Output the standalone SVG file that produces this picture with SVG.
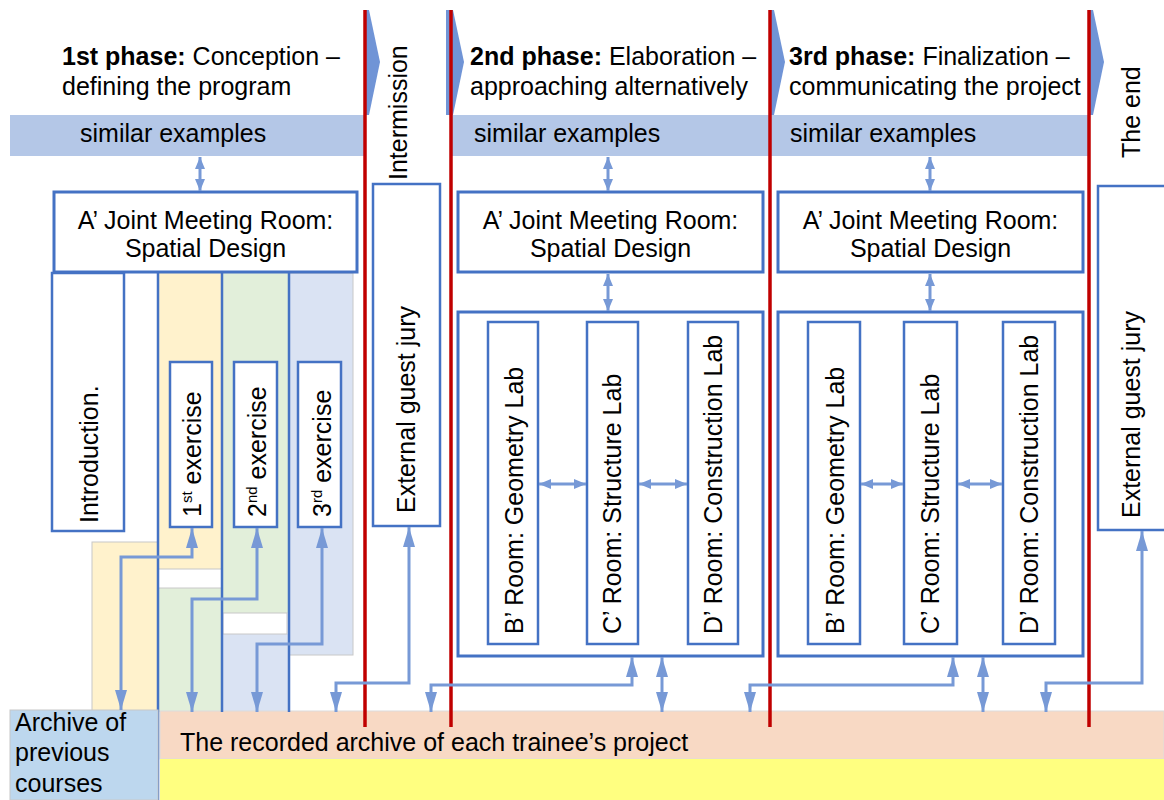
<svg xmlns="http://www.w3.org/2000/svg" width="1164" height="800" viewBox="0 0 1164 800">
<style>
text{font-family:"Liberation Sans",Arial,sans-serif;font-size:25px;fill:#000}
.box{fill:#fff;stroke:#4472c4;stroke-width:2.5}
.bbox{fill:#fff;stroke:#4472c4;stroke-width:3}
.vl{stroke:#4472c4;stroke-width:2.5;fill:none}
.red{stroke:#c00000;stroke-width:3.5}
.con{fill:none;stroke:#7799d6;stroke-width:3;marker-start:url(#ah);marker-end:url(#ah)}
.sm{fill:none;stroke:#7799d6;stroke-width:3;marker-start:url(#sh);marker-end:url(#sh)}
.band{fill:#b4c7e7}
</style>
<defs>
<marker id="ah" viewBox="0 0 20 12" refX="20" refY="6" markerWidth="20" markerHeight="12" orient="auto-start-reverse" markerUnits="userSpaceOnUse"><path d="M0,0 L20,6 L0,12 z" fill="#7799d6"/></marker>
<marker id="sh" viewBox="0 0 12 10" refX="12" refY="5" markerWidth="12" markerHeight="10" orient="auto-start-reverse" markerUnits="userSpaceOnUse"><path d="M0,0 L12,5 L0,10 z" fill="#7799d6"/></marker>
</defs>
<rect width="1164" height="800" fill="#fff"/>

<!-- backgrounds -->
<g id="backgrounds">
<rect class="band" x="10" y="115" width="355" height="41"/>
<rect class="band" x="451" y="115" width="319" height="41"/>
<rect class="band" x="770" y="115" width="319" height="41"/>
<rect x="92" y="542" width="66" height="170" fill="#fff2cc" stroke="#c8c8c8" stroke-width="1"/>
<rect x="158" y="273" width="64" height="296" fill="#fff2cc"/>
<rect x="222" y="273" width="67" height="340" fill="#e2efda"/>
<rect x="158" y="588" width="64" height="124" fill="#e2efda"/>
<rect x="289" y="273" width="64" height="382" fill="#dae3f3" stroke="#c8c8c8" stroke-width="1"/>
<rect x="222" y="634" width="67" height="78" fill="#dae3f3"/>
<rect x="158" y="569" width="64" height="19" fill="#fff" stroke="#c8c8c8" stroke-width="1"/>
<rect x="223" y="613" width="64" height="21" fill="#fff" stroke="#c8c8c8" stroke-width="1"/>
<rect x="160" y="711" width="1004" height="48" fill="#f8d9c4" stroke="#dcdcdc" stroke-width="1"/>
<rect x="160" y="759" width="1004" height="41" fill="#ffff80"/>
</g>

<g id="chevrons" fill="#7094d6">
<polygon points="366,10 369,10 380,62 369,115 366,115"/>
<polygon points="446,10 453,10 464,62 453,115 446,115"/>
<polygon points="771,10 774,10 785,62 774,115 771,115"/>
<polygon points="1090,10 1093,10 1104,62 1093,115 1090,115"/>
</g>

<g id="header1">
<text x="62" y="65"><tspan font-weight="bold">1st phase:</tspan> Conception –</text>
<text x="62" y="95">defining the program</text>
<text x="80" y="142">similar examples</text>
</g>
<g id="header2">
<text x="470" y="65"><tspan font-weight="bold">2nd phase:</tspan> Elaboration –</text>
<text x="470" y="95">approaching alternatively</text>
<text x="474" y="142">similar examples</text>
</g>
<g id="header3">
<text x="789" y="65"><tspan font-weight="bold">3rd phase:</tspan> Finalization –</text>
<text x="789" y="95">communicating the project</text>
<text x="790" y="142">similar examples</text>
</g>

<!-- phase 1 -->
<g id="meeting1">
<rect class="bbox" x="54" y="192" width="303" height="80"/>
<text x="205.5" y="229" text-anchor="middle">A’ Joint Meeting Room:</text>
<text x="205.5" y="257" text-anchor="middle">Spatial Design</text>
</g>
<g id="columns">
<line class="vl" x1="158" y1="271" x2="158" y2="800"/>
<line class="vl" x1="222" y1="273" x2="222" y2="712"/>
<line class="vl" x1="289" y1="273" x2="289" y2="712"/>
</g>
<g id="intro">
<rect class="box" x="52" y="273" width="72" height="258"/>
<text transform="translate(98,523) rotate(-90)">Introduction.</text>
</g>
<g id="ex1">
<rect class="box" x="170" y="362" width="42" height="165"/>
<text transform="translate(201,517) rotate(-90)">1<tspan font-size="15" dy="-9">st</tspan><tspan dy="9"> exercise</tspan></text>
</g>
<g id="ex2">
<rect class="box" x="234" y="362" width="43" height="165"/>
<text transform="translate(266,517) rotate(-90)">2<tspan font-size="15" dy="-9">nd</tspan><tspan dy="9"> exercise</tspan></text>
</g>
<g id="ex3">
<rect class="box" x="298" y="362" width="43" height="165"/>
<text transform="translate(331,517) rotate(-90)">3<tspan font-size="15" dy="-9">rd</tspan><tspan dy="9"> exercise</tspan></text>
</g>

<!-- intermission -->
<g id="intermission">
<text transform="translate(407,180) rotate(-90)">Intermission</text>
</g>
<g id="jury1">
<rect class="box" x="373" y="184" width="67" height="342" stroke-width="2"/>
<text transform="translate(415,513) rotate(-90)">External guest jury</text>
</g>

<!-- phase 2 -->
<g id="meeting2">
<rect class="bbox" x="458" y="192" width="305" height="80"/>
<text x="610.5" y="229" text-anchor="middle">A’ Joint Meeting Room:</text>
<text x="610.5" y="257" text-anchor="middle">Spatial Design</text>
</g>
<g id="labs2">
<rect class="bbox" x="458" y="312" width="305" height="344"/>
</g>
<g id="b2">
<rect class="box" x="488" y="322" width="50" height="322"/>
<text transform="translate(523,634) rotate(-90)">B’ Room:  Geometry Lab</text>
</g>
<g id="c2">
<rect class="box" x="587" y="322" width="51" height="322"/>
<text transform="translate(621,634) rotate(-90)">C’ Room: Structure Lab</text>
</g>
<g id="d2">
<rect class="box" x="688" y="322" width="50" height="322"/>
<text transform="translate(722,634) rotate(-90)">D’ Room: Construction Lab</text>
</g>

<!-- phase 3 -->
<g id="meeting3">
<rect class="bbox" x="778" y="192" width="305" height="80"/>
<text x="930.5" y="229" text-anchor="middle">A’ Joint Meeting Room:</text>
<text x="930.5" y="257" text-anchor="middle">Spatial Design</text>
</g>
<g id="labs3">
<rect class="bbox" x="778" y="312" width="305" height="344"/>
</g>
<g id="b3">
<rect class="box" x="808" y="322" width="52" height="322"/>
<text transform="translate(844,634) rotate(-90)">B’ Room:  Geometry Lab</text>
</g>
<g id="c3">
<rect class="box" x="904" y="322" width="53" height="322"/>
<text transform="translate(939,634) rotate(-90)">C’ Room: Structure Lab</text>
</g>
<g id="d3">
<rect class="box" x="1003" y="322" width="52" height="322"/>
<text transform="translate(1038,634) rotate(-90)">D’ Room: Construction Lab</text>
</g>

<!-- end -->
<g id="theend">
<text transform="translate(1140,158) rotate(-90)">The end</text>
</g>
<g id="jury2">
<rect class="box" x="1098" y="186" width="70" height="344" stroke-width="2"/>
<text transform="translate(1140,518) rotate(-90)">External guest jury</text>
</g>

<g id="archive">
<rect x="10" y="710" width="148" height="90" fill="#bdd7ee" stroke="#c8c8c8" stroke-width="1"/>
<text x="15" y="731">Archive of</text>
<text x="15" y="761">previous</text>
<text x="15" y="792">courses</text>
</g>
<g id="record">
<text x="180" y="751">The recorded archive of each trainee’s project</text>
</g>

<g id="phase-lines">
<line class="red" x1="365" y1="10" x2="365" y2="727"/>
<line class="red" x1="451" y1="10" x2="451" y2="727"/>
<line class="red" x1="770" y1="10" x2="770" y2="727"/>
<line class="red" x1="1089" y1="10" x2="1089" y2="727"/>
</g>

<g id="connectors">
<path class="sm" d="M200,157 V191"/>
<path class="sm" d="M608,157 V191"/>
<path class="sm" d="M930,157 V191"/>
<path class="sm" d="M608,274 V311"/>
<path class="sm" d="M930,274 V311"/>
<path class="sm" d="M539,484 H586"/>
<path class="sm" d="M639,484 H687"/>
<path class="sm" d="M861,484 H903"/>
<path class="sm" d="M958,484 H1002"/>
<path class="con" d="M121,710 V557 H192 V528"/>
<path class="con" d="M192,712 V599 H257 V528"/>
<path class="con" d="M257,712 V644 H322 V528"/>
<path class="con" d="M336,712 V683 H409 V527"/>
<path class="con" d="M431,712 V685 H632 V657"/>
<path class="con" d="M662,712 V657"/>
<path class="con" d="M750,712 V685 H953 V657"/>
<path class="con" d="M983,712 V657"/>
<path class="con" d="M1046,712 V683 H1142 V531"/>
</g>
</svg>
